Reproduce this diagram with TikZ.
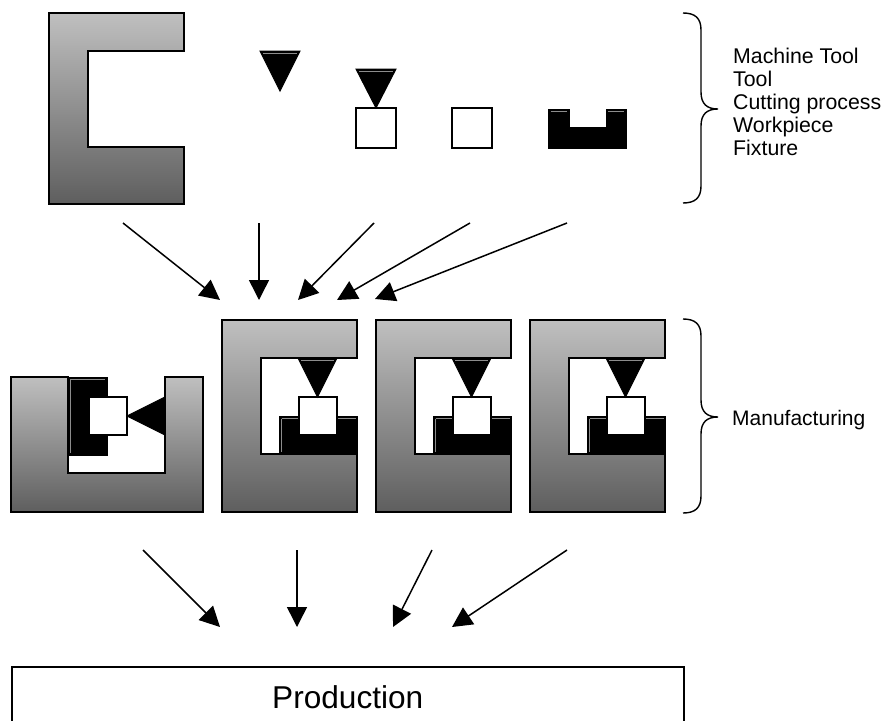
\documentclass[tikz,border=0pt]{standalone}
\usepackage{fontspec}
\setmainfont{Liberation Sans}
\usetikzlibrary{arrows.meta}

\tikzset{
  frame/.style={line width=1.5pt, draw=black, top color=black!25, bottom color=black!63},
  solid part/.style={fill=black, draw=black, line width=1pt},
  blank part/.style={fill=white, draw=black, line width=1.4pt},
  shine/.style={draw=black!45, line width=0.8pt},
  arr/.style={line width=1.5pt, -{Triangle[length=20pt,width=20pt]}},
  bracket/.style={line width=1.4pt},
  label/.style={anchor=base west, inner sep=0pt, font=\fontsize{21.3}{24}\selectfont},
  % a machine tool with tool, workpiece and fixture mounted
  cunit/.pic={
    \path[frame] (0,0) -- (135,0) -- (135,38) -- (39,38) -- (39,134) -- (135,134)
      -- (135,192) -- (0,192) -- cycle;
    \path[solid part] (57,96) -- (77,96) -- (77,115) -- (115,115) -- (115,96)
      -- (135,96) -- (135,134) -- (57,134) -- cycle;
    \draw[shine] (59.5,98.5) -- (59.5,132) (59.5,98.5) -- (76,98.5) (116,98.5) -- (134,98.5);
    \path[blank part] (77,77) rectangle (115,115);
    \path[solid part] (76,38) -- (115,38) -- (95.5,77) -- cycle;
    \draw[shine] (79,40.5) -- (112,40.5);
  }
}

\begin{document}
\begin{tikzpicture}[x=1pt, y=-1pt]
\useasboundingbox (0,0) rectangle (891,720);
\clip (0,0) rectangle (891,720);

% ---- components ----
% machine tool
\path[frame] (49,13) -- (184,13) -- (184,51) -- (88,51) -- (88,147) -- (184,147)
  -- (184,204) -- (49,204) -- cycle;
% tool
\path[solid part] (260,51) -- (300,51) -- (280,91) -- cycle;
\draw[shine] (263,53.5) -- (297,53.5);
% cutting process: tool on workpiece
\path[blank part] (356,108) rectangle (396,148);
\path[solid part] (356,69) -- (396,69) -- (376,108) -- cycle;
\draw[shine] (359,71.5) -- (393,71.5);
% workpiece
\path[blank part] (452,108) rectangle (492,148);
% fixture
\path[solid part] (548,109) -- (569,109) -- (569,127) -- (606,127) -- (606,109)
  -- (626,109) -- (626,148) -- (548,148) -- cycle;
\draw[shine] (550.5,111.5) -- (567,111.5) (608,111.5) -- (624,111.5);

% ---- brace and list of components ----
\draw[bracket] (683,13) .. controls (695,13) and (701,18) .. (701,30) -- (701,92)
  .. controls (701,104) and (707,109) .. (718,109)
  .. controls (707,109) and (701,114) .. (701,126) -- (701,186)
  .. controls (701,198) and (695,203) .. (683,203);
\node[label] (l1) at (733,63) {Machine Tool};
\node[label] (l2) at (733,86) {Tool};
\node[label] (l3) at (733,109) {Cutting process};
\node[label] (l4) at (733,132) {Workpiece};
\node[label] (l5) at (733,155) {Fixture};

% ---- arrows into manufacturing ----
\coordinate (t1s) at (123,223); \coordinate (t1e) at (220,300);
\coordinate (t2s) at (259,223); \coordinate (t2e) at (259,300);
\coordinate (t3s) at (374,223); \coordinate (t3e) at (298,300);
\coordinate (t4s) at (470,223); \coordinate (t4e) at (337,300);
\coordinate (t5s) at (567,223); \coordinate (t5e) at (375,299);
\foreach \i in {1,...,5} \draw[arr] (t\i s) -- (t\i e);

% ---- manufacturing set-ups ----
% horizontal set-up, opening upward
\path[frame] (11,377) -- (68,377) -- (68,473) -- (165,473) -- (165,377) -- (203,377)
  -- (203,512) -- (11,512) -- cycle;
\path[solid part] (68,377) -- (107,377) -- (107,397) -- (89,397) -- (89,435)
  -- (107,435) -- (107,455) -- (68,455) -- cycle;
\draw[shine] (70.5,379) -- (70.5,453) (70.5,379.5) -- (105,379.5);
\path[blank part] (89,397) rectangle (127,435);
\path[solid part] (165,397) -- (165,435) -- (127,416) -- cycle;
% vertical set-ups
\pic at (222,320) {cunit};
\pic at (376,320) {cunit};
\pic at (530,320) {cunit};

\draw[bracket] (683,319) .. controls (695,319) and (701,324) .. (701,336) -- (701,400)
  .. controls (701,412) and (707,417) .. (718,417)
  .. controls (707,417) and (701,422) .. (701,434) -- (701,496)
  .. controls (701,508) and (695,513) .. (683,513);
\node[anchor=base west, inner sep=0pt, font=\fontsize{21}{24}\selectfont] (manu) at (732,425) {Manufacturing};

% ---- arrows into production ----
\coordinate (b1s) at (143,550); \coordinate (b1e) at (220,627);
\coordinate (b2s) at (297,550); \coordinate (b2e) at (297,627);
\coordinate (b3s) at (432,550); \coordinate (b3e) at (393,627);
\coordinate (b4s) at (567,550); \coordinate (b4e) at (452,627);
\foreach \i in {1,...,4} \draw[arr] (b\i s) -- (b\i e);

% ---- production ----
\node[draw, line width=1.5pt, anchor=north west, minimum width=672pt, minimum height=60pt,
  inner sep=0pt, font=\fontsize{31.6}{36}\selectfont] (prod) at (11,666) {Production};
\end{tikzpicture}
\end{document}
